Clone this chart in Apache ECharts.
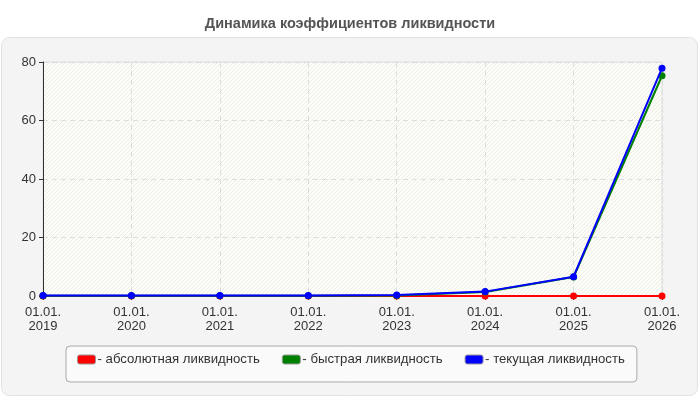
<!DOCTYPE html>
<html>
<head>
<meta charset="utf-8">
<script src="https://cdn.jsdelivr.net/npm/echarts@6/dist/echarts.min.js"></script>
<style>
  html, body { margin: 0; padding: 0; background: #fff; }
  #chart { width: 700px; height: 400px; }
</style>
</head>
<body>
<div id="chart"></div>
<script>
(function() {
  var titleText = 'Динамика коэффициентов ликвидности';
  var categories = ['01.01.\n2019', '01.01.\n2020', '01.01.\n2021', '01.01.\n2022',
                    '01.01.\n2023', '01.01.\n2024', '01.01.\n2025', '01.01.\n2026'];
  var absLiq = [0, 0, 0, 0, 0, 0, 0, 0];
  var quickLiq = [0.1, 0.1, 0.1, 0.1, 0.2, 1.4, 6.5, 75.3];
  var currentLiq = [0.2, 0.2, 0.2, 0.2, 0.3, 1.5, 6.6, 77.9];
  var names = ['- абсолютная ликвидность', '- быстрая ликвидность', '- текущая ликвидность'];
  var colors = ['#ff0000', '#008000', '#0000ff'];

  var font = '"Liberation Sans", Arial, sans-serif';

  // hatched plot background
  var pat = document.createElement('canvas');
  pat.width = 4; pat.height = 4;
  var ctx = pat.getContext('2d');
  ctx.fillStyle = '#fdfdf8';
  ctx.fillRect(0, 0, 4, 4);
  ctx.strokeStyle = '#ececea';
  ctx.lineWidth = 1;
  ctx.beginPath();
  ctx.moveTo(0, 4); ctx.lineTo(4, 0);
  ctx.moveTo(-1, 1); ctx.lineTo(1, -1);
  ctx.moveTo(3, 5); ctx.lineTo(5, 3);
  ctx.stroke();

  var chart = echarts.init(document.getElementById('chart'), null, { renderer: 'canvas' });

  function makeSeries(i, data) {
    return {
      type: 'line', name: names[i], data: data,
      symbol: 'circle', symbolSize: 7, showSymbol: true,
      lineStyle: { color: colors[i], width: 2 },
      itemStyle: { color: colors[i] },
      z: 3 + i
    };
  }

  chart.setOption({
    animation: false,
    backgroundColor: '#fff',
    title: {
      text: titleText, left: 'center', top: 11,
      textStyle: { color: '#555', fontSize: 14.5, fontWeight: 'bold', fontFamily: font }
    },
    graphic: [{
      type: 'rect', z: -10, silent: true,
      shape: { x: 1.5, y: 37.5, width: 696, height: 358, r: 8 },
      style: { fill: '#f4f4f4', stroke: '#e2e2e2', lineWidth: 1 }
    }],
    grid: {
      left: 43, right: 38, top: 62, bottom: 104,
      show: true,
      backgroundColor: { image: pat, repeat: 'repeat' },
      borderColor: '#dddddd', borderWidth: 1
    },
    legend: {
      left: 66, top: 346,
      padding: [7, 12, 16, 11],
      itemGap: 22,
      itemWidth: 18, itemHeight: 9,
      icon: 'roundRect',
      backgroundColor: '#fafafa',
      borderColor: '#aaaaaa', borderWidth: 1, borderRadius: 4,
      data: names,
      textStyle: { color: '#333', fontSize: 13.2, fontFamily: font, padding: [0, 0, 0, -3] },
      itemStyle: { borderColor: '#999', borderWidth: 1 }
    },
    xAxis: {
      type: 'category', data: categories, boundaryGap: false,
      axisLine: { show: false },
      axisTick: { show: true, alignWithLabel: true, length: 4, lineStyle: { color: '#333' } },
      axisLabel: { color: '#333', fontSize: 13, fontFamily: font, lineHeight: 14, margin: 9 },
      splitLine: { show: true, lineStyle: { color: '#dddddd', type: [5, 4] } }
    },
    yAxis: {
      type: 'value', min: 0, max: 80, interval: 20,
      axisLine: { show: true, lineStyle: { color: '#333' } },
      axisTick: { show: true, length: 4, lineStyle: { color: '#333' } },
      axisLabel: { color: '#333', fontSize: 13, fontFamily: font, margin: 7 },
      splitLine: { show: true, lineStyle: { color: '#dddddd', type: [5, 4] } }
    },
    series: [
      makeSeries(0, absLiq),
      makeSeries(1, quickLiq),
      makeSeries(2, currentLiq)
    ]
  });
})();
</script>
</body>
</html>
